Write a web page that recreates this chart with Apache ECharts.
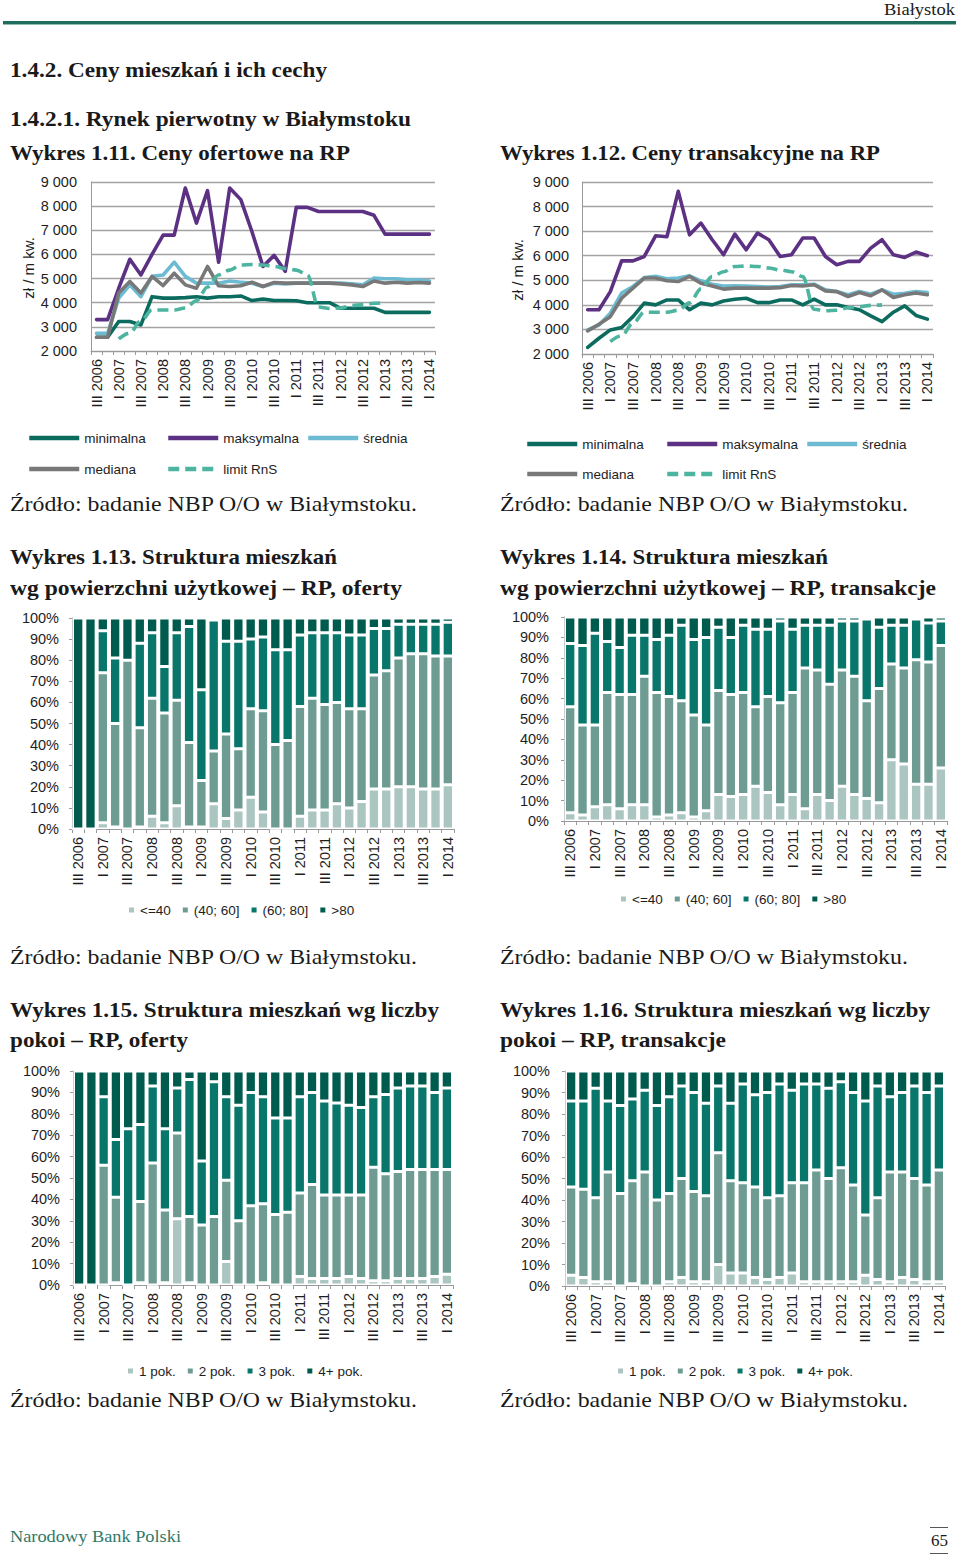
<!DOCTYPE html>
<html><head><meta charset="utf-8">
<script src="https://cdn.jsdelivr.net/npm/echarts@6/dist/echarts.min.js"></script>
<style>
body{margin:0;background:#fff;}
#page{position:relative;width:960px;height:1556px;overflow:hidden;background:#fff;}
#chart{position:absolute;left:0;top:0;width:960px;height:1556px;}
.t{position:absolute;white-space:nowrap;font-family:'Liberation Serif','Times New Roman',serif;color:#1a1a1a;font-size:21px;line-height:26px;height:26px;transform-origin:0 50%;}
.b{font-weight:bold;}
.rule{position:absolute;background:#1f6e5d;}
</style></head>
<body><div id="page"><div id="chart"></div>
<div class="t" id="city" style="top:-3px;font-size:17px" data-w="71" data-r="955">Białystok</div>
<div class="rule" style="left:3px;top:21px;width:953px;height:3px"></div>
<div class="rule" style="left:3px;top:24px;width:953px;height:1px;background:#8fbdb2"></div>
<div class="t b" style="left:10px;top:57px" data-w="317">1.4.2. Ceny mieszkań i ich cechy</div>
<div class="t b" style="left:10px;top:106px" data-w="401">1.4.2.1. Rynek pierwotny w Białymstoku</div>
<div class="t b" style="left:10px;top:140px" data-w="340">Wykres 1.11. Ceny ofertowe na RP</div>
<div class="t b" style="left:500px;top:140px" data-w="380">Wykres 1.12. Ceny transakcyjne na RP</div>
<div class="t" style="left:10px;top:491px" data-w="407">Źródło: badanie NBP O/O w Białymstoku.</div>
<div class="t" style="left:500px;top:491px" data-w="408">Źródło: badanie NBP O/O w Białymstoku.</div>
<div class="t b" style="left:10px;top:544px" data-w="327">Wykres 1.13. Struktura mieszkań</div>
<div class="t b" style="left:10px;top:575px" data-w="392">wg powierzchni użytkowej – RP, oferty</div>
<div class="t b" style="left:500px;top:544px" data-w="328">Wykres 1.14. Struktura mieszkań</div>
<div class="t b" style="left:500px;top:575px" data-w="436">wg powierzchni użytkowej – RP, transakcje</div>
<div class="t" style="left:10px;top:944px" data-w="407">Źródło: badanie NBP O/O w Białymstoku.</div>
<div class="t" style="left:500px;top:944px" data-w="408">Źródło: badanie NBP O/O w Białymstoku.</div>
<div class="t b" style="left:10px;top:997px" data-w="429">Wykres 1.15. Struktura mieszkań wg liczby</div>
<div class="t b" style="left:10px;top:1027px" data-w="178">pokoi – RP, oferty</div>
<div class="t b" style="left:500px;top:997px" data-w="430">Wykres 1.16. Struktura mieszkań wg liczby</div>
<div class="t b" style="left:500px;top:1027px" data-w="226">pokoi – RP, transakcje</div>
<div class="t" style="left:10px;top:1387px" data-w="407">Źródło: badanie NBP O/O w Białymstoku.</div>
<div class="t" style="left:500px;top:1387px" data-w="408">Źródło: badanie NBP O/O w Białymstoku.</div>
<div class="t" style="left:10px;top:1524px;font-size:17px;color:#2d7a67" data-w="171">Narodowy Bank Polski</div>
<div class="rule" style="left:930px;top:1527px;width:18px;height:1px;background:#555"></div>
<div class="t" style="left:931px;top:1528px;font-size:17px" data-w="17">65</div>
<div class="rule" style="left:930px;top:1553px;width:18px;height:1px;background:#555"></div>
</div>
<script>
// ---------- categories / tick labels ----------
const quarters = ['III 2006','IV 2006',
 'I 2007','II 2007','III 2007','IV 2007',
 'I 2008','II 2008','III 2008','IV 2008',
 'I 2009','II 2009','III 2009','IV 2009',
 'I 2010','II 2010','III 2010','IV 2010',
 'I 2011','II 2011','III 2011','IV 2011',
 'I 2012','II 2012','III 2012','IV 2012',
 'I 2013','II 2013','III 2013','IV 2013',
 'I 2014'];
const lineNames = ['minimalna','maksymalna','średnia','mediana','limit RnS'];
const areaNames = ['<=40','(40; 60]','(60; 80]','>80'];
const roomNames = ['1 pok.','2 pok.','3 pok.','4+ pok.'];

// ---------- Wykres 1.11: ceny ofertowe (zł / m kw.) ----------
const ofMin = [2570,2570,3220,3220,3080,4250,4190,4190,4210,4250,4190,4250,4250,4280,4090,4150,4090,4090,4080,4000,4000,4000,3770,3770,3770,3770,3600,3600,3600,3600,3600];
const ofMax = [3300,3300,4600,5800,5150,6000,6800,6800,8750,7300,8640,5680,8750,8270,6950,5500,5960,5300,7950,7950,7780,7780,7780,7780,7780,7620,6840,6840,6840,6840,6840];
const ofAvg = [2730,2730,4190,4740,4250,5090,5150,5680,5090,4810,4810,4810,4900,4850,4810,4670,4810,4780,4810,4810,4810,4810,4810,4780,4740,5020,4990,4990,4950,4950,4900];
const ofMed = [2570,2570,4400,4880,4400,5090,4710,5220,4740,4600,5500,4700,4670,4700,4850,4670,4840,4810,4810,4810,4810,4810,4780,4740,4670,4900,4810,4850,4810,4840,4810];
// ---------- Wykres 1.12: ceny transakcyjne (zł / m kw.) ----------
const trMin = [2270,2640,2980,3080,3520,4070,4000,4200,4200,3800,4070,4000,4160,4230,4270,4090,4090,4200,4200,4000,4230,4000,4000,3890,3800,3550,3320,3700,3960,3570,3420];
const trMax = [3800,3800,4540,5790,5790,5970,6810,6770,8620,6850,7330,6650,6040,6880,6240,6920,6650,5970,6040,6720,6720,5970,5630,5770,5770,6310,6650,6040,5930,6150,6000];
const trAvg = [2980,3180,3660,4480,4750,5110,5160,5060,5090,5180,4980,4840,4770,4780,4770,4750,4720,4750,4820,4820,4840,4610,4540,4410,4540,4430,4610,4430,4470,4540,4500];
const trMed = [2940,3210,3520,4270,4680,5090,5090,4980,4950,5160,4880,4770,4640,4680,4680,4680,4680,4700,4790,4770,4820,4570,4540,4340,4500,4370,4610,4300,4410,4480,4410];
// limit programu "Rodzina na Swoim" (both charts)
const limitRnS = [null,null,2500,2750,3250,3700,3700,3700,3780,4080,4650,5150,5350,5560,5580,5560,5500,5420,5350,5150,3820,3760,3780,3880,3920,3980,4000,null,null,null,null];

// ---------- Wykres 1.13: powierzchnia, oferty (%) ----------
const of13a = [0,0,3,1,0,1,6,3,11,1,1,12,5,9,15,8,0,0,6,9,9,12,10,13,19,19,20,20,19,19,21];
const of13b = [0,0,71,49,80,47,56,52,50,40,22,25,40,29,42,48,40,42,52,53,50,48,47,44,54,56,61,63,64,63,61];
const of13c = [0,0,20,31,0,40,31,22,32,55,43,62,44,51,33,35,45,43,34,31,34,33,35,35,22,20,16,14,14,15,16];
const of13d = [100,100,6,19,20,12,7,23,7,4,34,1,11,11,10,9,15,15,8,7,7,7,8,8,5,5,3,3,3,3,2];
// ---------- Wykres 1.14: powierzchnia, transakcje (%) ----------
const tr14a = [4,3,7,8,6,8,8,2,3,4,2,5,13,12,13,17,14,8,13,6,13,10,17,13,11,9,30,28,18,18,26];
const tr14b = [52,44,40,55,56,54,63,61,58,55,50,42,51,50,50,39,47,50,50,69,61,57,57,58,48,56,47,47,61,60,60];
const tr14c = [31,39,45,25,23,29,20,26,30,37,37,43,31,28,33,38,33,40,31,21,22,29,24,27,40,30,19,21,20,19,12];
const tr14d = [13,14,8,12,15,9,9,11,9,4,11,10,5,10,4,6,6,2,6,4,4,4,2,2,1,5,4,4,1,3,2];
// ---------- Wykres 1.15: liczba pokoi, oferty (%) ----------
const of15a = [0,0,0,1,0,1,0,1,31,1,0,0,11,0,0,1,0,0,4,3,3,3,4,3,2,2,3,3,3,4,5];
const of15b = [0,0,56,40,0,38,57,34,40,31,28,32,38,30,37,37,33,34,39,44,39,39,38,39,53,50,50,51,51,50,49];
const of15c = [0,0,32,27,73,36,36,38,21,64,30,63,39,54,53,50,45,44,45,43,44,43,42,41,33,37,39,39,39,36,38];
const of15d = [100,100,12,32,27,25,7,27,8,4,42,5,12,16,10,12,22,22,12,10,14,15,16,17,12,11,8,7,7,10,8];
// ---------- Wykres 1.16: liczba pokoi, transakcje (%) ----------
const tr16a = [5,4,2,2,0,1,0,0,2,4,2,2,10,6,6,4,3,4,6,2,2,2,2,2,5,3,2,4,3,2,2];
const tr16b = [41,41,39,51,43,48,53,40,41,46,42,40,52,43,42,42,38,38,42,46,52,48,53,45,28,38,51,49,47,45,52];
const tr16c = [40,41,51,33,41,38,38,44,45,43,46,43,31,36,46,43,49,52,43,46,40,42,40,43,53,52,35,37,43,43,39];
const tr16d = [14,14,8,14,16,13,9,16,12,7,10,15,7,15,6,11,10,6,9,6,6,8,5,10,14,7,12,10,7,10,7];

// ---------- styling ----------
const FONT = "'Liberation Sans', Arial, sans-serif";
const TXT = '#1e1e1e';
const AX = '#9a9a9a';
const GRID = '#a3a3a3';
const lineColors = ['#0c6b5f','#5c3184','#6dbbd2','#787878','#4cb49f'];
const barColors = ['#abc5c0','#6e9c93','#08766a','#005b4f'];
const thou = v => String(v).replace(/\B(?=(\d{3})+(?!\d))/g, ' ');

const grids = [
  {left:91, top:182, width:344, height:169},
  {left:582, top:182, width:351, height:172},
  {left:72, top:618, width:382, height:211},
  {left:564, top:617, width:383, height:204},
  {left:73, top:1071, width:380, height:214},
  {left:565, top:1071, width:380, height:215}
];
const yMargins = [14,13,13,15,13,15];

function xAx(g){
  return {type:'category', gridIndex:g, data:quarters, boundaryGap:true,
    axisLine:{show:true, lineStyle:{color:AX, width:1}},
    axisTick:{show:true, interval:0, length:4, lineStyle:{color:AX}},
    axisLabel:{interval:1, rotate:90, margin:8, fontSize:14.5, fontFamily:FONT, color:TXT},
    splitLine:{show:false}};
}
function yAx(g){
  const isLine = g < 2;
  return {type:'value', gridIndex:g,
    min: isLine ? 2000 : 0, max: isLine ? 9000 : 100, interval: isLine ? 1000 : 10,
    axisLine:{show:true, lineStyle:{color:AX}},
    axisTick:{show:!isLine, length:3, lineStyle:{color:AX}},
    splitLine:{show:isLine, lineStyle:{color:GRID, width:1.3}},
    axisLabel:{margin:yMargins[g], fontSize:14.5, fontFamily:FONT, color:TXT,
      formatter: isLine ? (v => thou(v)) : (v => v + '%')}};
}
function ln(i, data, g){
  const s = {type:'line', name:lineNames[i], data:data, xAxisIndex:g, yAxisIndex:g,
    symbol:'none', connectNulls:false, animation:false,
    lineStyle:{color:lineColors[i], width:3.6, cap:'round', join:'round'},
    itemStyle:{color:lineColors[i]}};
  if (i === 4) { s.lineStyle.type = [11,6]; s.lineStyle.cap = 'butt'; s.smooth = 0.35; s.smoothMonotone = 'x'; }
  return s;
}
function br(name, i, data, g){
  return {type:'bar', name:name, data:data, xAxisIndex:g, yAxisIndex:g, stack:'s'+g,
    barCategoryGap:'8%', animation:false,
    itemStyle:{color:barColors[i], borderColor:'#ffffff', borderWidth:1.5}};
}
const tstyle = {fontSize:13.5, fontFamily:FONT, color:TXT};
function lg(i, left, cy){
  return {data:[lineNames[i]], left:left, top:cy-8, itemWidth:50, itemHeight:14, padding:0,
    selectedMode:false, textStyle:tstyle,
    lineStyle:{width:4.5, cap:'butt'},
    itemStyle:{color:'transparent', borderColor:'transparent', borderWidth:0, opacity:0}};
}
function bl(names, left, cy){
  return {data:names, left:left, top:cy-8, icon:'rect', itemWidth:7, itemHeight:7, itemGap:10,
    padding:0, selectedMode:false, textStyle:tstyle};
}

const series = [
  ln(0, ofMin, 0), ln(1, ofMax, 0), ln(2, ofAvg, 0), ln(3, ofMed, 0), ln(4, limitRnS, 0),
  ln(0, trMin, 1), ln(1, trMax, 1), ln(2, trAvg, 1), ln(3, trMed, 1), ln(4, limitRnS, 1),
  br(areaNames[0],0,of13a,2), br(areaNames[1],1,of13b,2), br(areaNames[2],2,of13c,2), br(areaNames[3],3,of13d,2),
  br(areaNames[0],0,tr14a,3), br(areaNames[1],1,tr14b,3), br(areaNames[2],2,tr14c,3), br(areaNames[3],3,tr14d,3),
  br(roomNames[0],0,of15a,4), br(roomNames[1],1,of15b,4), br(roomNames[2],2,of15c,4), br(roomNames[3],3,of15d,4),
  br(roomNames[0],0,tr16a,5), br(roomNames[1],1,tr16b,5), br(roomNames[2],2,tr16c,5), br(roomNames[3],3,tr16d,5)
];

const legends = [
  lg(0,27,439), lg(1,166,439), lg(2,306,439), lg(3,27,470), lg(4,166,470),
  lg(0,525,445), lg(1,665,445), lg(2,805,445), lg(3,525,475), lg(4,665,475),
  bl(areaNames,127,911), bl(areaNames,619,900),
  bl(roomNames,126,1372), bl(roomNames,616,1372)
];

const chart = echarts.init(document.getElementById('chart'), null, {renderer:'svg'});
chart.setOption({
  animation:false,
  backgroundColor:'transparent',
  grid: grids,
  xAxis: grids.map((_, g) => xAx(g)),
  yAxis: grids.map((_, g) => yAx(g)),
  legend: legends,
  series: series,
  graphic: [
    {type:'text', x:28, y:268, rotation:Math.PI/2,
      style:{text:'zł / m kw.', fontSize:15, fontFamily:FONT, fill:TXT, align:'center', verticalAlign:'middle'}},
    {type:'text', x:517, y:270, rotation:Math.PI/2,
      style:{text:'zł / m kw.', fontSize:15, fontFamily:FONT, fill:TXT, align:'center', verticalAlign:'middle'}}
  ]
});

// fit heading widths to the reference
document.querySelectorAll('.t').forEach(el => {
  const w = +el.dataset.w;
  const r = el.getBoundingClientRect().width;
  if (w && r) {
    const k = w / r;
    el.style.transform = 'scaleX(' + k + ')';
    if (el.dataset.r) el.style.left = (+el.dataset.r - w) + 'px';
  }
});
</script>
</body></html>
